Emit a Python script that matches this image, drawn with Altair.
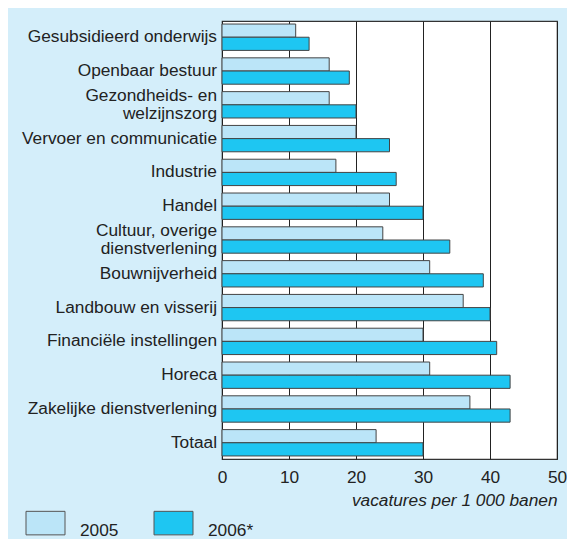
import altair as alt
import pandas as pd

categories = [
    "Gesubsidieerd onderwijs",
    "Openbaar bestuur",
    "Gezondheids- en welzijnszorg",
    "Vervoer en communicatie",
    "Industrie",
    "Handel",
    "Cultuur, overige dienstverlening",
    "Bouwnijverheid",
    "Landbouw en visserij",
    "Financiële instellingen",
    "Horeca",
    "Zakelijke dienstverlening",
    "Totaal",
]
# label text as printed (second line empty for one-line labels)
label_line1 = [
    "Gesubsidieerd onderwijs", "Openbaar bestuur", "Gezondheids- en",
    "Vervoer en communicatie", "Industrie", "Handel", "Cultuur, overige",
    "Bouwnijverheid", "Landbouw en visserij", "Financiële instellingen",
    "Horeca", "Zakelijke dienstverlening", "Totaal",
]
label_line2 = ["", "", "welzijnszorg", "", "", "", "dienstverlening", "", "", "", "", "", ""]
v2005 = [11, 16, 16, 20, 17, 25, 24, 31, 36, 30, 31, 37, 23]
v2006 = [13, 19, 20, 25, 26, 30, 34, 39, 40, 41, 43, 43, 30]
years = ["2005", "2006*"]
x_ticks = [0, 10, 20, 30, 40, 50]
colors = ["#bbe5f8", "#1ec6f2"]

rows = []
for c, a, b in zip(categories, v2005, v2006):
    rows.append({"sector": c, "jaar": years[0], "waarde": a})
    rows.append({"sector": c, "jaar": years[1], "waarde": b})
df = pd.DataFrame(rows)

single = pd.DataFrame(
    [{"sector": c, "txt": l1} for c, l1, l2 in zip(categories, label_line1, label_line2) if l2 == ""]
)
top_lines = pd.DataFrame(
    [{"sector": c, "txt": l1} for c, l1, l2 in zip(categories, label_line1, label_line2) if l2 != ""]
)
bottom_lines = pd.DataFrame(
    [{"sector": c, "txt": l2} for c, l1, l2 in zip(categories, label_line1, label_line2) if l2 != ""]
)

FONT = "Liberation Sans"
TXT = "#222222"
FS = 17.3

yscale = alt.Scale(paddingInner=0.22, paddingOuter=0.09)

bars = (
    alt.Chart(df)
    .mark_bar(stroke="#444444", strokeWidth=1)
    .encode(
        x=alt.X(
            "waarde:Q",
            scale=alt.Scale(domain=[0, 50], nice=False),
            axis=alt.Axis(
                values=x_ticks,
                title="vacatures per 1 000 banen",
                titleAnchor="end",
                titleFontStyle="italic",
                titleFontWeight="normal",
                titleFontSize=FS,
                titleColor=TXT,
                titlePadding=6,
                labelFontSize=FS,
                labelColor=TXT,
                labelPadding=9,
                labelFlush=False,
                ticks=False,
                tickSize=0,
                domain=False,
                grid=True,
                gridColor="#222222",
                gridWidth=1,
                gridOpacity=1,
            ),
        ),
        y=alt.Y("sector:N", sort=categories, scale=yscale, axis=None),
        yOffset=alt.YOffset(
            "jaar:N", sort=years, scale=alt.Scale(paddingInner=0, paddingOuter=0)
        ),
        color=alt.Color(
            "jaar:N",
            scale=alt.Scale(domain=years, range=colors),
            legend=alt.Legend(
                title=None,
                orient="none",
                legendX=-189,
                legendY=488,
                direction="horizontal",
                symbolType="M-1.625,-0.855L1.625,-0.855L1.625,1.105L-1.625,1.105Z",
                symbolSize=576,
                symbolStrokeColor="#555555",
                symbolStrokeWidth=1,
                symbolOpacity=1,
                labelFontSize=FS,
                labelColor=TXT,
                labelOffset=22,
                labelBaseline="top",
                columnPadding=33,
            ),
        ),
    )
)


def label_layer(data, dy):
    return (
        alt.Chart(data)
        .mark_text(align="right", baseline="middle", fontSize=FS, color=TXT, dy=dy)
        .encode(
            x=alt.value(-5),
            y=alt.Y("sector:N", sort=categories, scale=yscale, axis=None),
            text="txt:N",
        )
    )


chart = (
    alt.layer(bars, label_layer(single, 0), label_layer(top_lines, -9.2), label_layer(bottom_lines, 9.2))
    .properties(
        width=335,
        height=438,
        padding={"left": 14, "top": 13, "right": 0, "bottom": 0},
        background="#d4eefa",
    )
    .configure(font=FONT)
    .configure_view(fill="white", stroke="#333333", strokeWidth=1.2)
)

chart.save("out.html", embed_options={"renderer": "svg", "actions": False})
